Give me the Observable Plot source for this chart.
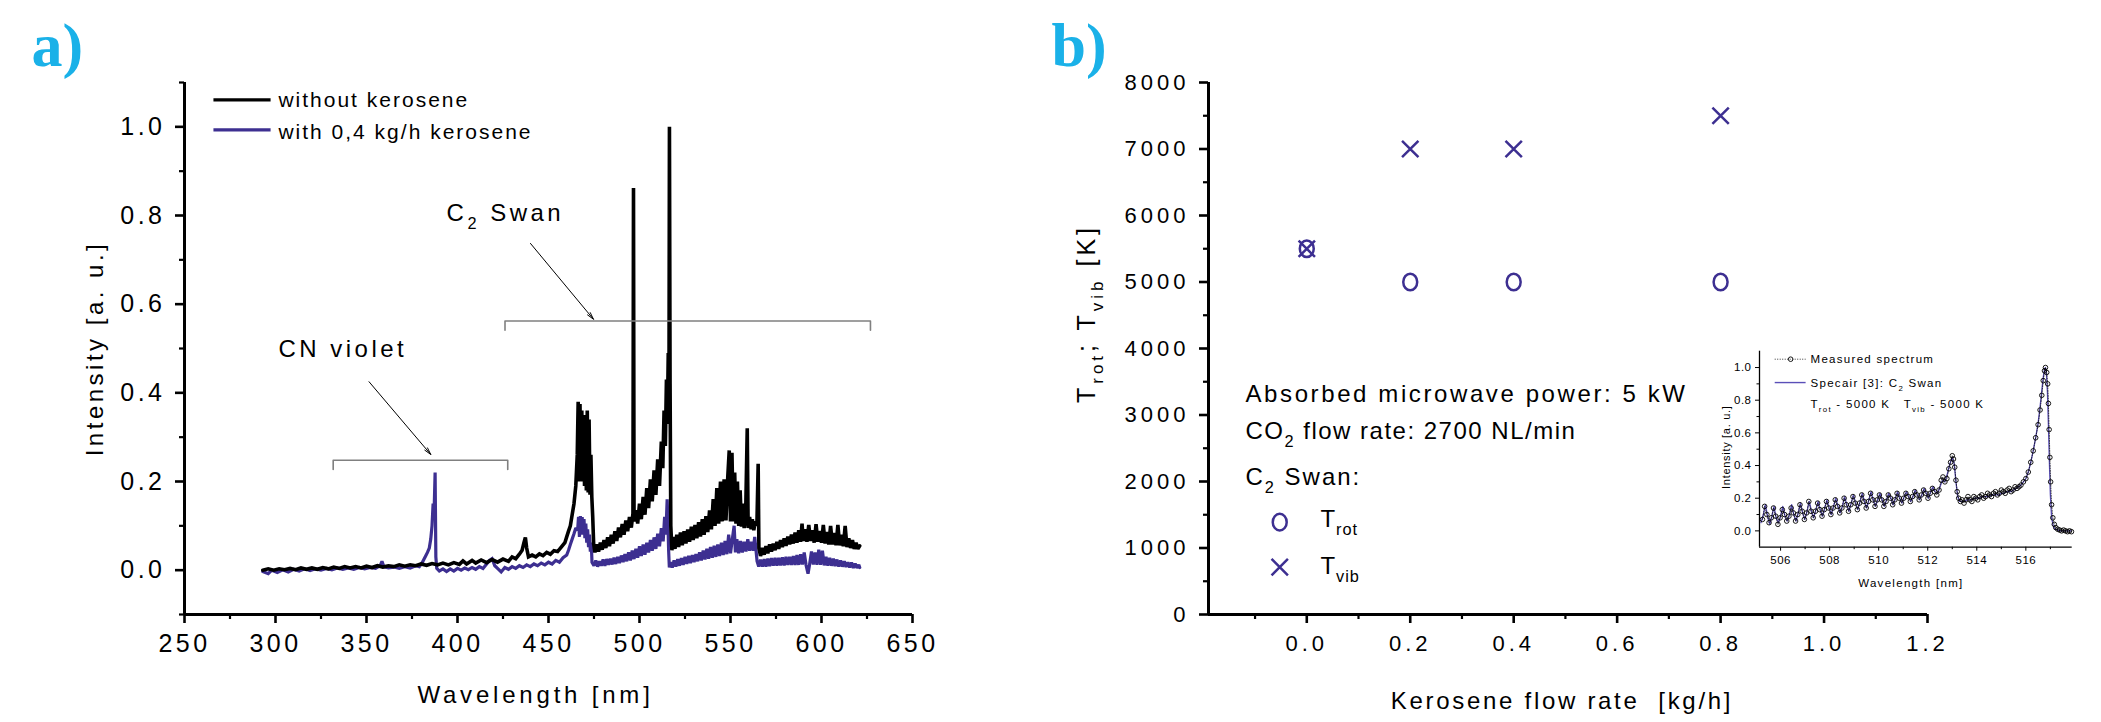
<!DOCTYPE html>
<html><head><meta charset="utf-8">
<script src="https://cdn.jsdelivr.net/npm/d3@7"></script>
<script src="https://cdn.jsdelivr.net/npm/@observablehq/plot@0.6"></script>
<style>
html,body{margin:0;padding:0;background:#fff;}
#wrap{position:relative;width:2101px;height:722px;overflow:hidden;background:#fff;}
#wrap svg{position:absolute;}
</style></head><body><div id="wrap"></div>
<script>
// ---------- Panel a data ----------
const wlTicksA = [250,300,350,400,450,500,550,600,650];
const wlMinorA = [275,325,375,425,475,525,575,625];
const intTicksA = [0,0.2,0.4,0.6,0.8,1.0];
const intMinorA = [-0.1,0.1,0.3,0.5,0.7,0.9,1.1];
const seriesNames = ["without kerosene","with 0,4 kg/h kerosene"];
const bands = [{name:"CN violet", from:331.7, to:427.6},{name:"C_{2} Swan", from:426.1, to:626.9}];

const withoutKerosene = [[293,0.000],[296,0.003],[299,0.000],[302,0.003],[305,0.001],[308,0.004],[311,0.001],[314,0.005],[317,0.002],[320,0.005],[323,0.002],[326,0.006],[329,0.003],[332,0.007],[335,0.004],[338,0.008],[341,0.005],[344,0.008],[347,0.005],[350,0.009],[353,0.006],[356,0.010],[359,0.007],[362,0.010],[365,0.008],[368,0.012],[371,0.009],[374,0.012],[377,0.010],[380,0.014],[383,0.011],[386,0.015],[389,0.012],[392,0.016],[395,0.012],[398,0.017],[401,0.013],[403,0.021],[405,0.014],[408,0.022],[410,0.016],[413,0.023],[416,0.017],[419,0.024],[422,0.018],[425,0.025],[428,0.020],[430,0.030],[432,0.026],[434,0.036],[435.5,0.045],[436.5,0.062],[437.3,0.074],[438,0.050],[439,0.030],[441,0.034],[443,0.030],[445,0.037],[447,0.033],[449,0.040],[451,0.036],[453,0.044],[455,0.042],[457,0.052],[459,0.062],[460,0.075],[461,0.088],[462,0.100],[463,0.125],[464,0.150],[465,0.190],[465.8,0.260],[466.3,0.380],[466.8,0.200],[467.3,0.375],[467.8,0.210],[468.3,0.360],[468.8,0.200],[469.3,0.350],[469.8,0.190],[470.3,0.320],[470.8,0.180],[471.3,0.360],[471.8,0.175],[472.3,0.340],[472.8,0.170],[473.3,0.260],[473.8,0.165],[474.3,0.120],[474.8,0.060],[475.5,0.040],[476.5,0.058],[477.5,0.042],[478.5,0.062],[479.5,0.046],[480.5,0.068],[481.5,0.050],[482.5,0.074],[483.5,0.054],[484.5,0.080],[485.5,0.060],[486.5,0.088],[487.5,0.066],[488.5,0.096],[489.5,0.074],[490.5,0.104],[491.5,0.080],[492.5,0.112],[493.5,0.088],[494.5,0.120],[495.5,0.096],[496.4,0.128],[496.7,0.862],[497.0,0.110],[498,0.135],[499,0.105],[500,0.150],[501,0.115],[502,0.165],[503,0.125],[504,0.185],[505,0.140],[506,0.205],[507,0.155],[508,0.225],[509,0.170],[510,0.250],[511,0.190],[512,0.290],[512.8,0.230],[513.5,0.360],[514.2,0.280],[514.8,0.430],[515.3,0.330],[515.8,0.490],[516.2,0.400],[516.45,1.000],[516.8,0.420],[517.2,0.100],[517.8,0.045],[518.5,0.075],[519.5,0.048],[520.5,0.080],[521.5,0.052],[522.5,0.085],[523.5,0.056],[524.5,0.088],[525.5,0.060],[526.5,0.092],[527.5,0.064],[528.5,0.098],[529.5,0.068],[530.5,0.102],[531.5,0.072],[532.5,0.108],[533.5,0.076],[534.5,0.115],[535.5,0.080],[536.5,0.122],[537.5,0.086],[538.5,0.135],[539.5,0.092],[540.5,0.160],[541.5,0.100],[542.5,0.185],[543.5,0.105],[544.5,0.200],[545.5,0.110],[546.5,0.205],[547.5,0.112],[548.5,0.210],[549.3,0.270],[550,0.110],[550.8,0.265],[551.5,0.110],[552.3,0.220],[553,0.105],[553.8,0.200],[554.5,0.100],[555.3,0.180],[556,0.098],[556.8,0.150],[557.5,0.095],[558.3,0.120],[559.2,0.320],[559.7,0.095],[560.5,0.120],[561.3,0.092],[562,0.115],[562.8,0.090],[563.6,0.110],[564.5,0.100],[565.2,0.240],[565.6,0.050],[566.5,0.032],[567.5,0.050],[568.5,0.035],[569.5,0.054],[570.5,0.038],[571.5,0.058],[572.5,0.042],[573.5,0.060],[574.5,0.045],[575.5,0.064],[576.5,0.048],[577.5,0.068],[578.5,0.052],[579.5,0.072],[580.5,0.055],[581.5,0.076],[582.5,0.058],[583.5,0.080],[584.5,0.060],[585.5,0.085],[586.5,0.062],[587.5,0.090],[588.5,0.064],[589.3,0.105],[590,0.066],[591,0.092],[592,0.064],[593,0.102],[594,0.066],[595,0.090],[596,0.062],[597,0.104],[598,0.064],[599,0.088],[600,0.062],[601,0.102],[602,0.060],[603,0.086],[604,0.058],[605,0.100],[606,0.058],[607,0.084],[608,0.056],[609,0.102],[610,0.056],[611,0.080],[612,0.054],[613,0.100],[614,0.052],[615,0.072],[616,0.050],[617,0.068],[618,0.048],[619,0.062],[620,0.048],[621,0.055]];

const withKerosene = [[293,-0.003],[296,-0.008],[298,0.000],[301,-0.005],[304,0.001],[307,-0.004],[310,0.002],[313,-0.002],[316,0.003],[319,-0.001],[322,0.003],[325,0.000],[328,0.004],[331,0.001],[334,0.005],[337,0.002],[340,0.005],[343,0.002],[346,0.006],[349,0.003],[352,0.006],[355,0.004],[357.5,0.010],[358.5,0.020],[359.5,0.008],[362,0.005],[365,0.007],[368,0.004],[371,0.008],[374,0.005],[377,0.010],[379,0.008],[380.5,0.016],[381.5,0.024],[382.5,0.032],[383.5,0.040],[384.5,0.050],[385.3,0.070],[386,0.100],[386.6,0.150],[387.1,0.125],[387.7,0.220],[388.1,0.030],[388.6,0.004],[390,-0.002],[392,0.003],[394,-0.003],[396,0.003],[398,-0.002],[400,0.004],[402,0.000],[404,0.005],[406,0.001],[408,0.006],[410,0.002],[412,0.008],[414,0.004],[416,0.014],[417.5,0.022],[419,0.026],[420.5,0.010],[422,0.004],[424,-0.004],[426,0.006],[428,0.002],[430,0.008],[432,0.004],[434,0.010],[436,0.006],[438,0.012],[440,0.008],[442,0.014],[444,0.010],[446,0.016],[448,0.012],[450,0.018],[452,0.014],[454,0.022],[456,0.018],[458,0.028],[460,0.034],[461,0.045],[462,0.058],[463,0.070],[464,0.082],[465,0.095],[466,0.090],[466.5,0.120],[467,0.075],[467.5,0.122],[468,0.080],[468.5,0.120],[469,0.080],[469.5,0.115],[470,0.072],[470.5,0.105],[471,0.062],[471.5,0.092],[472,0.052],[472.5,0.080],[473,0.042],[473.5,0.062],[473.9,0.018],[475,0.010],[476,0.022],[477,0.008],[478,0.020],[479,0.010],[480,0.024],[481,0.010],[482,0.025],[483,0.012],[484,0.026],[485,0.013],[486,0.028],[487,0.014],[488,0.030],[489,0.016],[490,0.033],[491,0.018],[492,0.036],[493,0.020],[494,0.040],[495,0.022],[496,0.044],[497,0.025],[498,0.048],[499,0.028],[500,0.054],[501,0.032],[502,0.058],[503,0.035],[504,0.062],[505,0.040],[506,0.068],[507,0.044],[508,0.074],[509,0.048],[510,0.082],[511,0.054],[512,0.095],[513,0.065],[513.8,0.120],[514.5,0.080],[515.2,0.160],[515.7,0.095],[516,0.045],[516.4,0.006],[517,0.018],[518,0.006],[519,0.022],[520,0.008],[521,0.025],[522,0.010],[523,0.027],[524,0.012],[525,0.030],[526,0.014],[527,0.032],[528,0.016],[529,0.034],[530,0.018],[531,0.036],[532,0.020],[533,0.040],[534,0.022],[535,0.044],[536,0.024],[537,0.048],[538,0.026],[539,0.052],[540,0.028],[541,0.055],[542,0.030],[543,0.058],[544,0.032],[545,0.062],[546,0.034],[547,0.066],[548,0.036],[549,0.080],[550,0.038],[551,0.070],[552,0.100],[552.7,0.040],[553.5,0.070],[554.5,0.038],[555.5,0.066],[556.5,0.040],[557.5,0.064],[558.5,0.042],[559.5,0.070],[560.5,0.044],[561.5,0.064],[562.5,0.044],[563.3,0.075],[564,0.046],[564.6,0.020],[565.5,0.008],[566.5,0.024],[567.5,0.008],[568.5,0.025],[569.5,0.008],[570.5,0.026],[571.5,0.009],[572.5,0.027],[573.5,0.010],[574.5,0.028],[575.5,0.010],[576.5,0.028],[577.5,0.011],[578.5,0.029],[579.5,0.011],[580.5,0.030],[581.5,0.012],[582.5,0.030],[583.5,0.012],[584.5,0.032],[585.5,0.012],[586.5,0.034],[587.5,0.012],[588.5,0.036],[589.5,0.013],[590.5,0.040],[591.5,0.012],[592.6,-0.008],[593.5,0.014],[594.5,0.042],[595.5,0.013],[596.5,0.040],[597.5,0.012],[598.5,0.046],[599.5,0.012],[600.5,0.044],[601.5,0.011],[602.5,0.030],[603.5,0.010],[604.5,0.028],[605.5,0.010],[606.5,0.026],[607.5,0.009],[608.5,0.024],[609.5,0.008],[610.5,0.022],[611.5,0.008],[612.5,0.020],[613.5,0.007],[614.5,0.018],[615.5,0.006],[616.5,0.017],[617.5,0.005],[618.5,0.015],[619.5,0.005],[620.5,0.012],[621,0.006]];

// ---------- Panel b data ----------
const flowRate = [0.0, 0.2, 0.4, 0.8];
const tRot = [5500, 5000, 5000, 5000];
const tVib = [5500, 7000, 7000, 7500];
const flowTicks = [0,0.2,0.4,0.6,0.8,1.0,1.2];
const flowMinor = [-0.1,0.1,0.3,0.5,0.7,0.9,1.1];
const tempTicks = [0,1000,2000,3000,4000,5000,6000,7000,8000];
const tempMinor = [500,1500,2500,3500,4500,5500,6500,7500];
const infoLines = ["Absorbed microwave power: 5 kW","CO_{2} flow rate: 2700 NL/min","C_{2} Swan:"];

// ---------- Inset data ----------
const insetWlTicks = [506,508,510,512,514,516];
const insetWlMinor = [507,509,511,513,515,517];
const insetIntTicks = [0,0.2,0.4,0.6,0.8,1.0];
const insetIntMinor = [0.1,0.3,0.5,0.7,0.9];
const measured = [[505.26,0.07],[505.35,0.15],[505.44,0.10],[505.53,0.05],[505.62,0.08],[505.71,0.14],[505.80,0.09],[505.89,0.04],[505.98,0.08],[506.07,0.13],[506.16,0.10],[506.25,0.06],[506.34,0.09],[506.43,0.14],[506.52,0.11],[506.61,0.06],[506.70,0.10],[506.79,0.16],[506.88,0.12],[506.97,0.07],[507.06,0.11],[507.15,0.18],[507.24,0.12],[507.33,0.08],[507.42,0.12],[507.51,0.17],[507.60,0.13],[507.69,0.09],[507.78,0.13],[507.87,0.18],[507.96,0.14],[508.05,0.10],[508.14,0.14],[508.23,0.19],[508.32,0.15],[508.41,0.11],[508.50,0.14],[508.59,0.20],[508.68,0.16],[508.77,0.12],[508.86,0.16],[508.95,0.21],[509.04,0.17],[509.13,0.13],[509.22,0.17],[509.31,0.22],[509.40,0.18],[509.49,0.14],[509.58,0.18],[509.67,0.23],[509.76,0.19],[509.85,0.15],[509.94,0.19],[510.03,0.22],[510.12,0.19],[510.21,0.15],[510.30,0.18],[510.39,0.22],[510.48,0.20],[510.57,0.16],[510.66,0.19],[510.75,0.23],[510.84,0.20],[510.93,0.17],[511.02,0.20],[511.11,0.23],[511.20,0.21],[511.29,0.18],[511.38,0.21],[511.47,0.24],[511.56,0.22],[511.65,0.19],[511.74,0.22],[511.83,0.25],[511.92,0.23],[512.01,0.20],[512.10,0.23],[512.19,0.26],[512.28,0.24],[512.37,0.22],[512.46,0.25],[512.55,0.31],[512.62,0.33],[512.70,0.30],[512.78,0.32],[512.86,0.38],[512.93,0.42],[513.00,0.46],[513.05,0.44],[513.10,0.39],[513.15,0.31],[513.20,0.24],[513.26,0.20],[513.33,0.18],[513.40,0.19],[513.48,0.17],[513.56,0.19],[513.64,0.21],[513.72,0.19],[513.80,0.18],[513.88,0.21],[513.96,0.20],[514.04,0.19],[514.12,0.21],[514.20,0.22],[514.28,0.20],[514.36,0.21],[514.44,0.23],[514.52,0.22],[514.60,0.21],[514.68,0.23],[514.76,0.24],[514.84,0.22],[514.92,0.23],[515.00,0.25],[515.08,0.24],[515.16,0.23],[515.24,0.25],[515.32,0.26],[515.40,0.24],[515.48,0.25],[515.56,0.27],[515.64,0.26],[515.72,0.27],[515.80,0.28],[515.90,0.30],[516.00,0.32],[516.10,0.36],[516.20,0.42],[516.30,0.49],[516.40,0.57],[516.50,0.65],[516.58,0.74],[516.65,0.83],[516.71,0.92],[516.76,0.98],[516.80,1.00],[516.85,0.97],[516.89,0.90],[516.92,0.78],[516.95,0.62],[516.98,0.45],[517.01,0.30],[517.05,0.16],[517.10,0.08],[517.16,0.04],[517.22,0.02],[517.30,0.01],[517.38,0.005],[517.46,0.00],[517.54,0.005],[517.62,0.00],[517.70,-0.005],[517.78,0.00],[517.86,-0.005]];
const specair = [[505.20,0.05],[505.30,0.10],[505.38,0.16],[505.47,0.09],[505.56,0.04],[505.65,0.09],[505.73,0.15],[505.82,0.08],[505.91,0.05],[506.00,0.09],[506.09,0.15],[506.18,0.09],[506.27,0.06],[506.36,0.10],[506.45,0.16],[506.54,0.10],[506.63,0.06],[506.72,0.11],[506.81,0.17],[506.90,0.11],[506.99,0.07],[507.08,0.12],[507.17,0.18],[507.26,0.12],[507.35,0.08],[507.44,0.13],[507.53,0.18],[507.62,0.13],[507.71,0.09],[507.80,0.14],[507.89,0.19],[507.98,0.14],[508.07,0.10],[508.16,0.15],[508.25,0.20],[508.34,0.15],[508.43,0.11],[508.52,0.15],[508.61,0.21],[508.70,0.16],[508.79,0.12],[508.88,0.17],[508.97,0.22],[509.06,0.17],[509.15,0.13],[509.24,0.18],[509.33,0.23],[509.42,0.18],[509.51,0.14],[509.60,0.19],[509.69,0.24],[509.78,0.19],[509.87,0.15],[509.96,0.19],[510.05,0.23],[510.14,0.19],[510.23,0.15],[510.32,0.19],[510.41,0.23],[510.50,0.20],[510.59,0.16],[510.68,0.20],[510.77,0.24],[510.86,0.20],[510.95,0.17],[511.04,0.21],[511.13,0.24],[511.22,0.21],[511.31,0.18],[511.40,0.21],[511.49,0.25],[511.58,0.22],[511.67,0.19],[511.76,0.22],[511.85,0.26],[511.94,0.23],[512.03,0.20],[512.12,0.24],[512.21,0.27],[512.30,0.24],[512.40,0.23],[512.50,0.27],[512.60,0.31],[512.70,0.30],[512.80,0.35],[512.90,0.41],[513.00,0.45],[513.08,0.41],[513.15,0.30],[513.22,0.21],[513.30,0.18],[513.40,0.18],[513.50,0.18],[513.60,0.19],[513.70,0.19],[513.80,0.19],[513.90,0.20],[514.00,0.20],[514.10,0.20],[514.20,0.21],[514.30,0.21],[514.40,0.21],[514.50,0.21],[514.60,0.22],[514.70,0.22],[514.80,0.22],[514.90,0.22],[515.00,0.23],[515.10,0.23],[515.20,0.24],[515.30,0.24],[515.40,0.24],[515.50,0.25],[515.60,0.26],[515.70,0.27],[515.80,0.28],[515.90,0.30],[516.00,0.32],[516.10,0.36],[516.20,0.42],[516.30,0.49],[516.40,0.57],[516.50,0.66],[516.58,0.76],[516.65,0.86],[516.71,0.94],[516.76,0.99],[516.80,1.00],[516.84,0.96],[516.88,0.85],[516.92,0.65],[516.96,0.42],[517.00,0.22],[517.05,0.08],[517.12,0.03],[517.20,0.01],[517.40,0.00],[517.86,0.00]];
const insetLegend = ["Measured spectrum","Specair [3]: C_{2} Swan","T_{rot} - 5000 K\u00a0\u00a0\u00a0T_{vib} - 5000 K"];

// ---------- helpers ----------
const BLUE = "#3d2f91";
const CYAN = "#1ab1e8";
const SANS = "'Liberation Sans', Arial, sans-serif";
const SERIF = "'Liberation Serif', 'Times New Roman', serif";
const px = d => d[0], py = d => d[1];

function subify(svg) {
  svg.querySelectorAll("text").forEach(t => {
    const s = t.textContent;
    if (!s.includes("_{")) return;
    const fs = parseFloat(getComputedStyle(t).fontSize) || 12;
    const parts = s.split(/(_\{[^}]*\})/);
    while (t.firstChild) t.removeChild(t.firstChild);
    t.style.whiteSpace = "pre";
    let shifted = false;
    for (const p of parts) {
      if (!p) continue;
      const ts = document.createElementNS("http://www.w3.org/2000/svg", "tspan");
      if (p.startsWith("_{")) {
        ts.textContent = p.slice(2, -1);
        ts.setAttribute("font-size", (fs * 0.68).toFixed(2));
        ts.setAttribute("dy", (fs * 0.33).toFixed(2));
        shifted = true;
      } else {
        ts.textContent = p;
        if (shifted) { ts.setAttribute("dy", (-fs * 0.33).toFixed(2)); shifted = false; }
      }
      t.appendChild(ts);
    }
  });
}

const ovalSymbol = {
  draw(ctx, size) {
    const r = Math.sqrt(size / Math.PI), rx = r * 0.84, ry = r, k = 0.5523;
    ctx.moveTo(rx, 0);
    ctx.bezierCurveTo(rx, ry * k, rx * k, ry, 0, ry);
    ctx.bezierCurveTo(-rx * k, ry, -rx, ry * k, -rx, 0);
    ctx.bezierCurveTo(-rx, -ry * k, -rx * k, -ry, 0, -ry);
    ctx.bezierCurveTo(rx * k, -ry, rx, -ry * k, rx, 0);
    ctx.closePath();
  }
};

const wrap = document.getElementById("wrap");
function place(svg, left, top, spacing) {
  svg.style.left = left + "px";
  svg.style.top = top + "px";
  wrap.appendChild(svg);
  svg.querySelectorAll("text").forEach(t => {
    const s = t.textContent;
    if (spacing.has(s)) t.style.letterSpacing = spacing.get(s) + "px";
  });
  subify(svg);
}

// ---------- Panel a ----------
const plotA = Plot.plot({
  width: 1000, height: 722,
  marginLeft: 184, marginRight: 88, marginTop: 82, marginBottom: 108,
  style: {fontFamily: SANS, fontSize: "25px", letterSpacing: "3.5px", background: "transparent", overflow: "visible", color: "black"},
  x: {domain: [250, 650]},
  y: {domain: [-0.1, 1.1]},
  marks: [
    Plot.line(withKerosene, {x: px, y: py, stroke: BLUE, strokeWidth: 3.2, strokeLinejoin: "miter", strokeMiterlimit: 2}),
    Plot.line(withoutKerosene, {x: px, y: py, stroke: "black", strokeWidth: 3.6, strokeLinejoin: "miter", strokeMiterlimit: 2}),
    Plot.line([[bands[0].from,0.227],[bands[0].from,0.248],[bands[0].to,0.248],[bands[0].to,0.227]], {x: px, y: py, stroke: "#808080", strokeWidth: 1.6}),
    Plot.line([[bands[1].from,0.541],[bands[1].from,0.562],[bands[1].to,0.562],[bands[1].to,0.541]], {x: px, y: py, stroke: "#808080", strokeWidth: 1.6}),
    Plot.arrow([{x1: 351.4, y1: 0.425, x2: 385.3, y2: 0.261}], {x1: "x1", y1: "y1", x2: "x2", y2: "y2", stroke: "black", strokeWidth: 1, headLength: 11, headAngle: 28}),
    Plot.arrow([{x1: 440.1, y1: 0.737, x2: 474.7, y2: 0.566}], {x1: "x1", y1: "y1", x2: "x2", y2: "y2", stroke: "black", strokeWidth: 1, headLength: 11, headAngle: 28}),
    Plot.text([bands[0].name], {x: 301.6, y: 0.481, textAnchor: "start", lineAnchor: "bottom", fontSize: 24, fill: "black"}),
    Plot.text([bands[1].name], {x: 394, y: 0.788, textAnchor: "start", lineAnchor: "bottom", fontSize: 24, fill: "black"}),
    Plot.link(seriesNames, {x1: 265.9, x2: 297.3, y1: (d, i) => [1.061, 0.993][i], y2: (d, i) => [1.061, 0.993][i], stroke: (d, i) => ["black", BLUE][i], strokeWidth: 3.2}),
    Plot.text(seriesNames, {x: 301.6, y: (d, i) => [1.044, 0.973][i], text: d => d, textAnchor: "start", lineAnchor: "bottom", fontSize: 21, fill: "black"}),
    Plot.axisX(wlTicksA, {tickSize: 9, tickPadding: 11, strokeWidth: 2.6, fontSize: 25, label: null, tickFormat: d => String(d)}),
    Plot.axisX(wlMinorA, {tickSize: 5, strokeWidth: 2.2, tickFormat: () => "", label: null}),
    Plot.axisY(intTicksA, {tickSize: 9, tickPadding: 10, strokeWidth: 2.6, fontSize: 25, label: null, tickFormat: d3.format(".1f")}),
    Plot.axisY(intMinorA, {tickSize: 5, strokeWidth: 2.2, tickFormat: () => "", label: null}),
    Plot.ruleX([250], {stroke: "black", strokeWidth: 3}),
    Plot.ruleY([-0.1], {stroke: "black", strokeWidth: 3}),
    Plot.text(["Wavelength [nm]"], {frameAnchor: "bottom", dx: -13, dy: 88, textAnchor: "middle", lineAnchor: "bottom", fontSize: 24, fill: "black"}),
    Plot.text(["Intensity [a. u.]"], {frameAnchor: "left", dx: -82, dy: 0, rotate: -90, textAnchor: "middle", lineAnchor: "bottom", fontSize: 24, fill: "black"}),
    Plot.text(["a)"], {frameAnchor: "top-left", dx: -153, dy: -17, textAnchor: "start", lineAnchor: "bottom", fontSize: 62, fontWeight: "bold", fontFamily: SERIF, fill: CYAN})
  ]
});
place(plotA, 0, 0, new Map([
  ["without kerosene", 2], ["with 0,4 kg/h kerosene", 2], ["Wavelength [nm]", 3.8],
  ["Intensity [a. u.]", 3.5], ["a)", 0]
]));

// ---------- Panel b ----------
const tempRows = flowRate.map((f, i) => ({f, rot: tRot[i], vib: tVib[i]}));
const plotB = Plot.plot({
  width: 1101, height: 722,
  marginLeft: 208, marginRight: 174, marginTop: 82, marginBottom: 108,
  style: {fontFamily: SANS, fontSize: "22px", letterSpacing: "4px", background: "transparent", overflow: "visible", color: "black"},
  x: {domain: [-0.19, 1.2]},
  y: {domain: [0, 8000]},
  marks: [
    Plot.axisX(flowTicks, {tickSize: 9, tickPadding: 12, strokeWidth: 2.6, fontSize: 22, label: null, tickFormat: d3.format(".1f")}),
    Plot.axisX(flowMinor, {tickSize: 5, strokeWidth: 2.2, tickFormat: () => "", label: null}),
    Plot.axisY(tempTicks, {tickSize: 9, tickPadding: 10, strokeWidth: 2.6, fontSize: 22, label: null, tickFormat: d => String(d)}),
    Plot.axisY(tempMinor, {tickSize: 5, strokeWidth: 2.2, tickFormat: () => "", label: null}),
    Plot.ruleX([-0.19], {stroke: "black", strokeWidth: 3}),
    Plot.ruleY([0], {stroke: "black", strokeWidth: 3}),
    Plot.dot(tempRows, {x: "f", y: "vib", symbol: "times", r: 7.5, stroke: BLUE, strokeWidth: 2.5}),
    Plot.dot(tempRows, {x: "f", y: "rot", symbol: ovalSymbol, r: 8.3, stroke: BLUE, fill: "none", strokeWidth: 2.5}),
    Plot.text(infoLines, {x: -0.1185, y: (d, i) => [3190, 2644, 1941][i], text: d => d, textAnchor: "start", lineAnchor: "bottom", fontSize: 24, fill: "black"}),
    Plot.dot([0], {x: -0.0523, y: 1389, symbol: ovalSymbol, r: 8.3, stroke: BLUE, fill: "none", strokeWidth: 2.5}),
    Plot.dot([0], {x: -0.0523, y: 712, symbol: "times", r: 7.5, stroke: BLUE, strokeWidth: 2.5}),
    Plot.text(["T_{rot}", "T_{vib}"], {x: 0.0263, y: (d, i) => [1314, 602][i], text: d => d, textAnchor: "start", lineAnchor: "bottom", fontSize: 24, fill: "black"}),
    Plot.text(["Kerosene flow rate\u00a0\u00a0[kg/h]"], {frameAnchor: "bottom", dx: -6, dy: 94, textAnchor: "middle", lineAnchor: "bottom", fontSize: 24, fill: "black"}),
    Plot.text(["T_{rot}; T_{vib} [K]"], {frameAnchor: "left", dx: -114, dy: -35, rotate: -90, textAnchor: "middle", lineAnchor: "bottom", fontSize: 25, fill: "black"}),
    Plot.text(["b)"], {frameAnchor: "top-left", dx: 51 - 208, dy: -17, textAnchor: "start", lineAnchor: "bottom", fontSize: 62, fontWeight: "bold", fontFamily: SERIF, fill: CYAN})
  ]
});
place(plotB, 1000, 0, new Map([
  [infoLines[0], 2.6], [infoLines[1], 1.5], [infoLines[2], 2],
  ["T_{rot}", 1], ["T_{vib}", 1], ["Kerosene flow rate\u00a0\u00a0[kg/h]", 2.7],
  ["T_{rot}; T_{vib} [K]", 4], ["b)", 0]
]));

// ---------- Inset ----------
const plotI = Plot.plot({
  width: 401, height: 270,
  marginLeft: 59, marginRight: 29.3, marginTop: 20.7, marginBottom: 53.3,
  style: {fontFamily: SANS, fontSize: "11.5px", letterSpacing: "0.5px", background: "transparent", overflow: "visible", color: "black"},
  x: {domain: [505.14, 517.89]},
  y: {domain: [-0.1, 1.1]},
  marks: [
    Plot.line(specair, {x: px, y: py, stroke: "#5a4fb8", strokeWidth: 1.3}),
    Plot.line(measured, {x: px, y: py, stroke: "black", strokeWidth: 0.7, strokeDasharray: "1 1.5"}),
    Plot.dot(measured, {x: px, y: py, r: 2.3, stroke: "black", strokeWidth: 0.9, fill: "none"}),
    Plot.axisX(insetWlTicks, {tickSize: 4, tickPadding: 5, strokeWidth: 1, fontSize: 11.5, label: null, tickFormat: d => String(d)}),
    Plot.axisX(insetWlMinor, {tickSize: 2.5, strokeWidth: 1, tickFormat: () => "", label: null}),
    Plot.axisY(insetIntTicks, {tickSize: 4, tickPadding: 4, strokeWidth: 1, fontSize: 11.5, label: null, tickFormat: d3.format(".1f")}),
    Plot.axisY(insetIntMinor, {tickSize: 2.5, strokeWidth: 1, tickFormat: () => "", label: null}),
    Plot.ruleX([505.14], {stroke: "black", strokeWidth: 1.3}),
    Plot.ruleY([-0.1], {stroke: "black", strokeWidth: 1.3}),
    Plot.link([0], {x1: 505.76, x2: 507.02, y1: 1.051, y2: 1.051, stroke: "black", strokeWidth: 0.8, strokeDasharray: "1 1.5"}),
    Plot.dot([0], {x: 506.41, y: 1.051, r: 2.3, stroke: "black", strokeWidth: 0.9, fill: "none"}),
    Plot.link([0], {x1: 505.76, x2: 507.02, y1: 0.908, y2: 0.908, stroke: "#5a4fb8", strokeWidth: 1.4}),
    Plot.text(insetLegend, {x: 507.22, y: (d, i) => [1.026, 0.881, 0.751][i], text: d => d, textAnchor: "start", lineAnchor: "bottom", fontSize: 11.5, fill: "black"}),
    Plot.text(["Wavelength [nm]"], {frameAnchor: "bottom", dx: -5, dy: 40, textAnchor: "middle", lineAnchor: "bottom", fontSize: 11.5, fill: "black"}),
    Plot.text(["Intensity [a. u.]"], {frameAnchor: "left", dx: -30, dy: -2, rotate: -90, textAnchor: "middle", lineAnchor: "bottom", fontSize: 11, fill: "black"})
  ]
});
place(plotI, 1700, 330, new Map([
  [insetLegend[0], 1.3], [insetLegend[1], 1.3], [insetLegend[2], 1.3],
  ["Wavelength [nm]", 1.3], ["Intensity [a. u.]", 0.7]
]));
</script></body></html>
